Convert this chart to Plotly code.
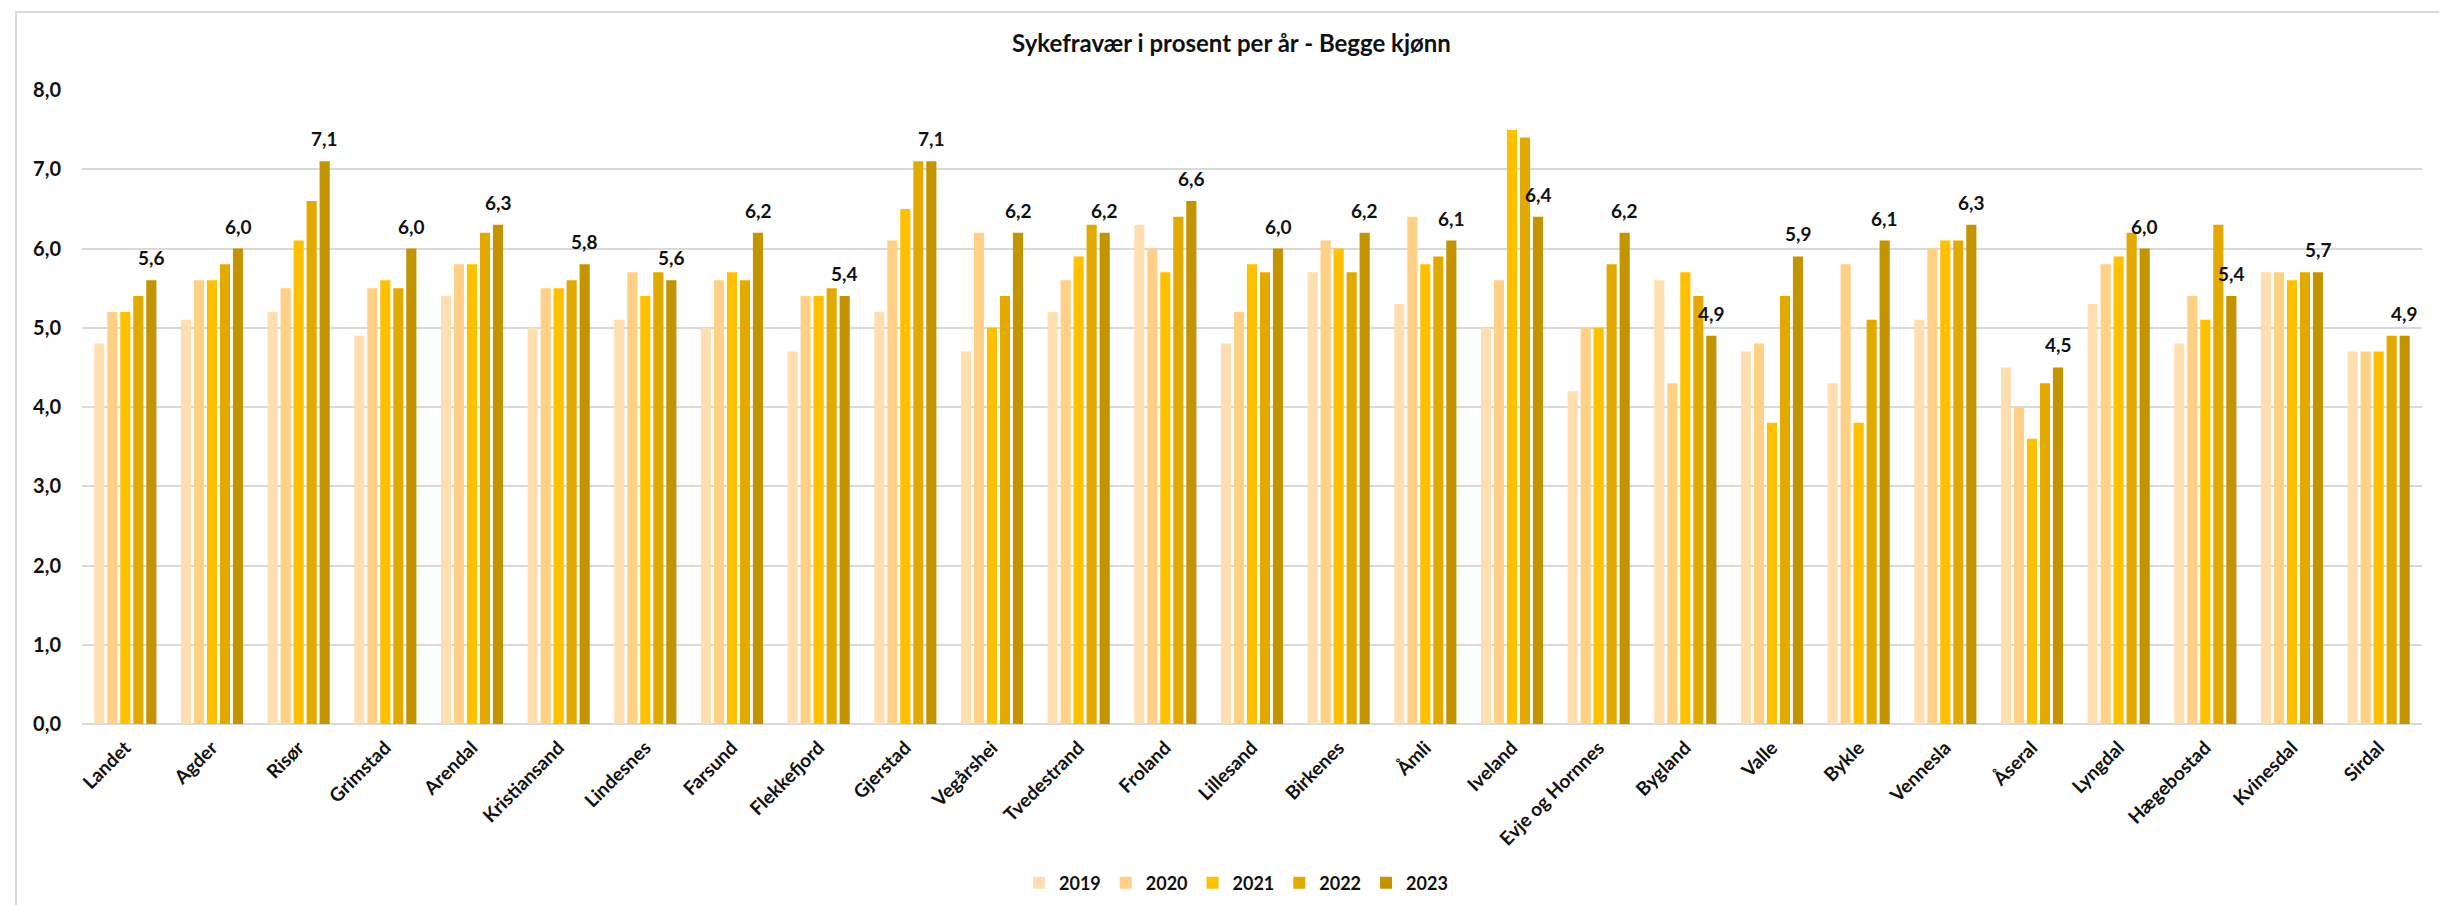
import plotly.graph_objects as go

categories = ["Landet", "Agder", "Risør", "Grimstad", "Arendal", "Kristiansand", "Lindesnes",
              "Farsund", "Flekkefjord", "Gjerstad", "Vegårshei", "Tvedestrand", "Froland",
              "Lillesand", "Birkenes", "Åmli", "Iveland", "Evje og Hornnes", "Bygland", "Valle",
              "Bykle", "Vennesla", "Åseral", "Lyngdal", "Hægebostad", "Kvinesdal", "Sirdal"]

years = ["2019", "2020", "2021", "2022", "2023"]

v2019 = [4.8, 5.1, 5.2, 4.9, 5.4, 5.0, 5.1, 5.0, 4.7, 5.2, 4.7, 5.2, 6.3, 4.8, 5.7, 5.3, 5.0, 4.2, 5.6, 4.7, 4.3, 5.1, 4.5, 5.3, 4.8, 5.7, 4.7]
v2020 = [5.2, 5.6, 5.5, 5.5, 5.8, 5.5, 5.7, 5.6, 5.4, 6.1, 6.2, 5.6, 6.0, 5.2, 6.1, 6.4, 5.6, 5.0, 4.3, 4.8, 5.8, 6.0, 4.0, 5.8, 5.4, 5.7, 4.7]
v2021 = [5.2, 5.6, 6.1, 5.6, 5.8, 5.5, 5.4, 5.7, 5.4, 6.5, 5.0, 5.9, 5.7, 5.8, 6.0, 5.8, 7.5, 5.0, 5.7, 3.8, 3.8, 6.1, 3.6, 5.9, 5.1, 5.6, 4.7]
v2022 = [5.4, 5.8, 6.6, 5.5, 6.2, 5.6, 5.7, 5.6, 5.5, 7.1, 5.4, 6.3, 6.4, 5.7, 5.7, 5.9, 7.4, 5.8, 5.4, 5.4, 5.1, 6.1, 4.3, 6.2, 6.3, 5.7, 4.9]
v2023 = [5.6, 6.0, 7.1, 6.0, 6.3, 5.8, 5.6, 6.2, 5.4, 7.1, 6.2, 6.2, 6.6, 6.0, 6.2, 6.1, 6.4, 6.2, 4.9, 5.9, 6.1, 6.3, 4.5, 6.0, 5.4, 5.7, 4.9]

series = [v2019, v2020, v2021, v2022, v2023]
colors = ["#FFDFB1", "#FFD085", "#FFC000", "#E2AA00", "#C49300"]

FONT = "Lato"
TXT = "#111111"

W, H = 2447, 905
L, R, T, B = 74, 33, 82, 189
pw, ph = W - L - R, H - T - B
BARGAP = 0.25
BARGROUPGAP = 0.22

def px_x(x):
    return (x - L) / pw

def px_y(y):
    return (H - B - y) / ph

fig = go.Figure()
for yr, vals, col in zip(years, series, colors):
    fig.add_trace(go.Bar(name=yr, x=categories, y=vals,
                         marker=dict(color=col, line=dict(width=0))))

# value labels above the 2023 bars (offset = position of the 5th bar within its group)
spacing = pw / len(categories)
slot = (1 - BARGAP) * spacing / len(years)
shift_last = (len(years) - 1) / 2 * slot
annotations = []
for c, v in zip(categories, v2023):
    annotations.append(dict(x=c, y=v, xref="x", yref="y", text=f"{v:.1f}".replace(".", ","),
                            showarrow=False, xanchor="center", yanchor="bottom",
                            xshift=shift_last, yshift=9,
                            font=dict(family=FONT, size=19, color=TXT, weight="bold")))

fig.update_layout(
    width=W, height=H,
    margin=dict(l=L, r=R, t=T, b=B, autoexpand=False),
    paper_bgcolor="white", plot_bgcolor="white",
    separators=", ",
    barmode="group", bargap=BARGAP, bargroupgap=BARGROUPGAP,
    font=dict(family=FONT, color=TXT),
    title=dict(text="<b>Sykefravær i prosent per år - Begge kjønn</b>",
               x=0.5, xref="container", xanchor="center", y=1 - 36 / H, yanchor="middle",
               font=dict(family=FONT, size=24, color=TXT)),
    legend=dict(orientation="h", x=px_x(1228), xanchor="center", y=px_y(875), yanchor="middle",
                font=dict(family=FONT, size=18, color=TXT, weight="bold"),
                traceorder="normal", itemwidth=30),
    showlegend=True,
    annotations=annotations,
    shapes=[dict(type="rect", xref="paper", yref="paper",
                 x0=px_x(8), x1=px_x(2438), y0=px_y(901), y1=px_y(4),
                 line=dict(color="#D9D9D9", width=2), fillcolor="rgba(0,0,0,0)", layer="below")],
)

fig.update_xaxes(tickangle=-45, tickfont=dict(family=FONT, size=19, color=TXT, weight="bold"),
                 showgrid=False, showline=False, ticks="", ticklabelstandoff=8,
                 range=[-0.5, len(categories) - 0.5])
fig.update_yaxes(range=[0, 8], dtick=1, tickformat=".1f",
                 tickfont=dict(family=FONT, size=20, color=TXT, weight="bold"),
                 showgrid=True, gridcolor="#D9D9D9", gridwidth=1.5,
                 zeroline=True, zerolinecolor="#D9D9D9", zerolinewidth=2,
                 showline=False, ticks="", ticklabelstandoff=20)

fig.write_html("out.html")
